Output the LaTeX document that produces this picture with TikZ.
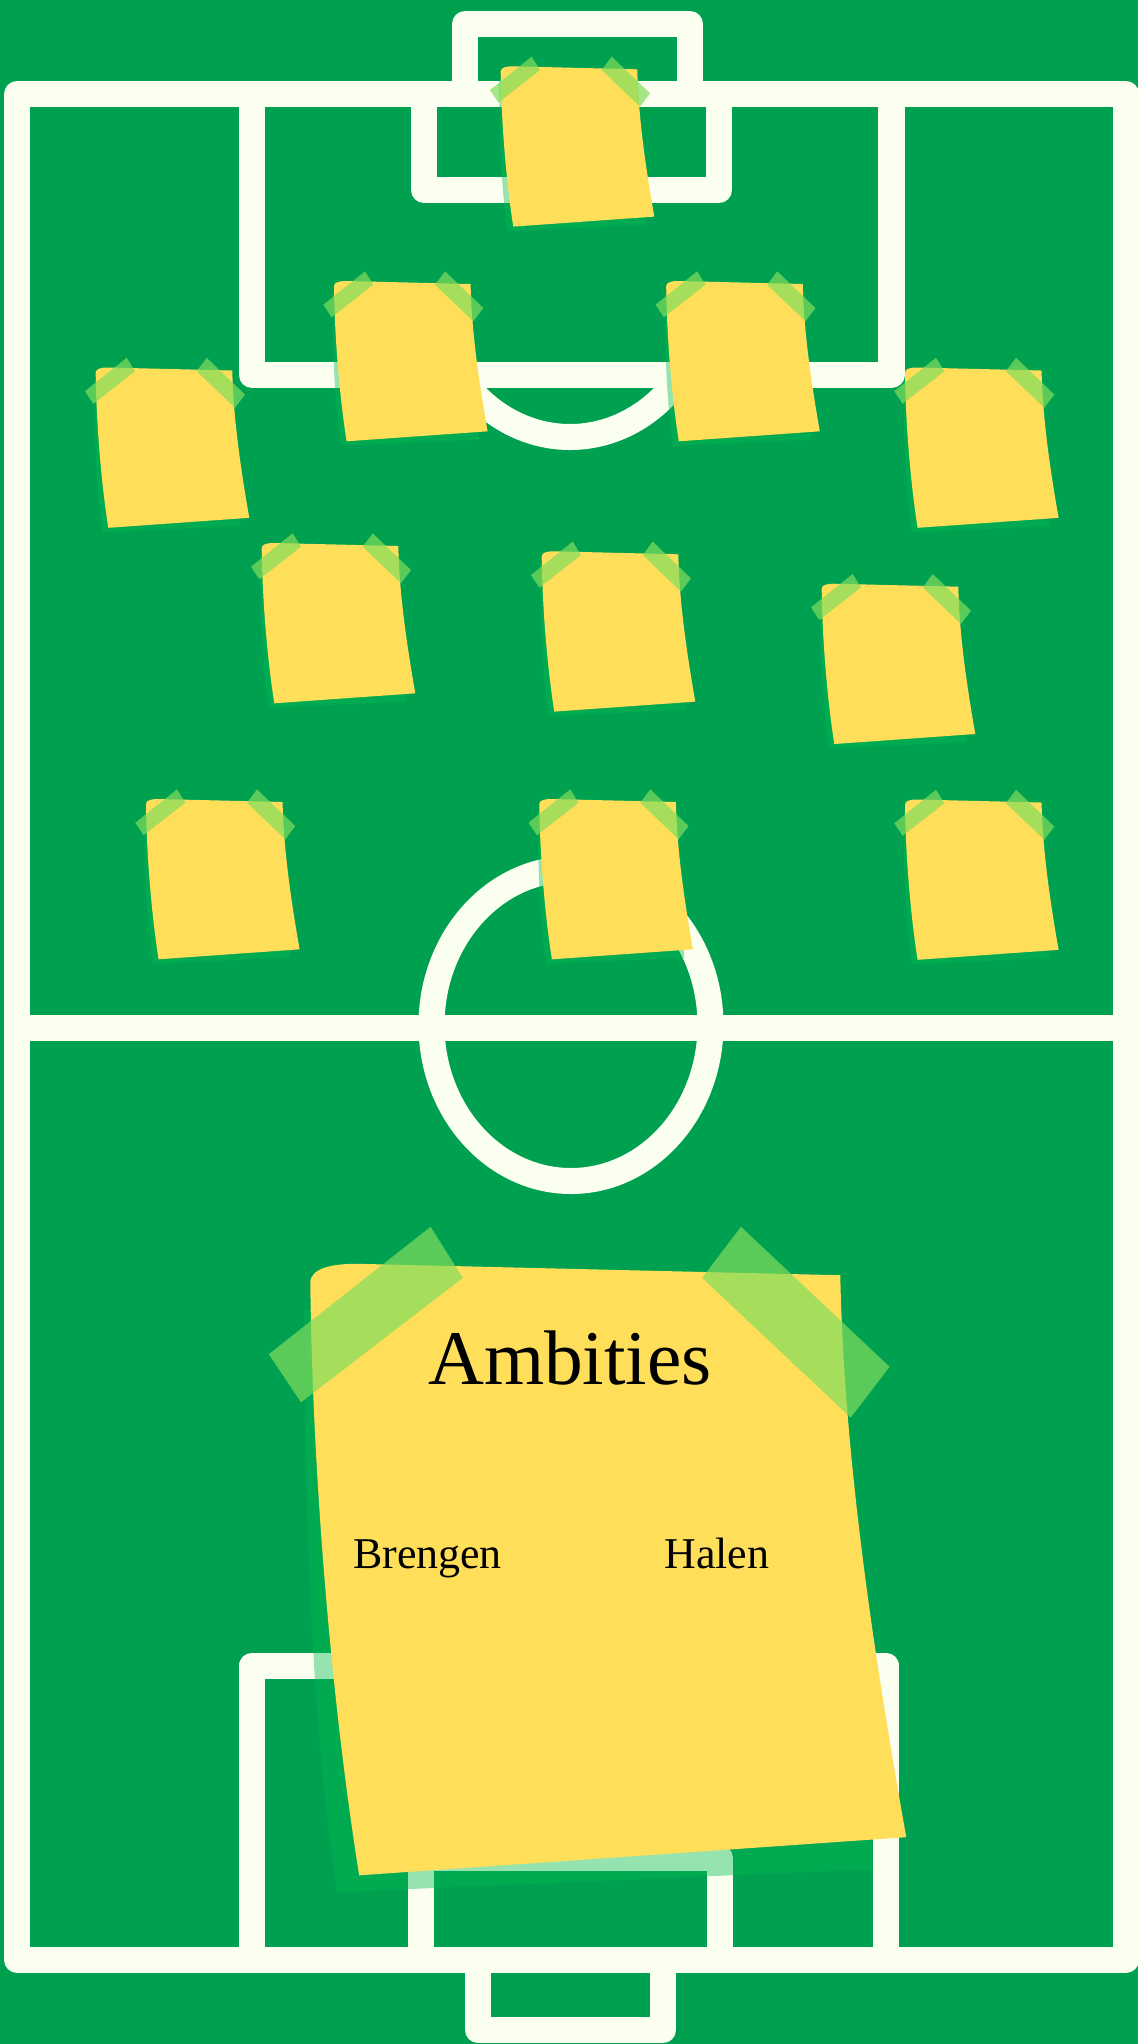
\documentclass[tikz,border=0pt]{standalone}
\usepackage{fontspec}
\setmainfont{Liberation Serif}
\usepackage{tikz}

\definecolor{pitchgreen}{RGB}{0,160,81}
\definecolor{chalk}{RGB}{250,255,240}
\definecolor{noteyellow}{RGB}{255,222,89}
\definecolor{tapegreen}{RGB}{129,221,91}
\definecolor{shadowgreen}{RGB}{0,187,82}

\begin{document}
\begin{tikzpicture}[
			x=0.01cm,
			y=-0.01cm,
			line cap=butt,
			line join=round,
			chalk line/.style={draw=chalk, line width=2.6mm},
			sticky/.pic={
				\fill[shadowgreen, fill opacity=0.4] (-1.5,10) .. controls (-1.5,70) and (1,125) .. (7,162.7)
					-- (145,156.7) -- (137,10) -- cycle;
				\fill[noteyellow] (0,3) .. controls (0,-1) and (6,-2) .. (12,-2) -- (136.6,1)
					.. controls (137.5,50) and (146,105) .. (153.6,148.3) -- (12.6,158.3)
					.. controls (5,110) and (0.5,50) .. (0,3) -- cycle;
				\fill[tapegreen, fill opacity=0.7] (-10.7,21.7) -- (31,-11.7) -- (39.3,1.7) -- (-2.4,34.3) -- cycle;
				\fill[tapegreen, fill opacity=0.7] (101,1.7) -- (111,-11.7) -- (149.3,25) -- (139.3,38.3) -- cycle;
			}
			]
			\useasboundingbox (0,0) rectangle (1138,2044);
			\fill[pitchgreen] (0,0) rectangle (1138,2044);
			
			% pitch
			\draw[chalk line] (17.4,94) rectangle (1126,1960);
			\draw[chalk line] (17.4,1027.5) -- (1126,1027.5);
			\draw[chalk line] (571,1025) ellipse [x radius=139.5, y radius=156];
			
			\draw[chalk line] (252,94) -- (252,375) -- (891.5,375) -- (891.5,94);
			\draw[chalk line] (424,94) -- (424,190) -- (719,190) -- (719,94);
			\draw[chalk line] (465,94) -- (465,24) -- (690,24) -- (690,94);
			\draw[chalk line] (570,281) ++(38:139.5 and 156)
				arc [start angle=38, end angle=142, x radius=139.5, y radius=156];
			
			\draw[chalk line] (252,1960) -- (252,1665.5) -- (886,1665.5) -- (886,1960);
			\draw[chalk line] (421,1960) -- (421,1858) -- (720,1858) -- (720,1960);
			\draw[chalk line] (478,1960) -- (478,2030) -- (663,2030) -- (663,1960);
			
			% notes
			\pic (keeper) at (500.7,68.3) {sticky};
			\pic (backl) at (334,283) {sticky};
			\pic (backr) at (666.2,283) {sticky};
			\pic (wingl) at (95.7,369.5) {sticky};
			\pic (wingr) at (905,369.5) {sticky};
			\pic (midl) at (261.7,545) {sticky};
			\pic (midc) at (541.7,553.3) {sticky};
			\pic (midr) at (821.7,585.7) {sticky};
			\pic (fwdl) at (146,801) {sticky};
			\pic (fwdc) at (539.3,801) {sticky};
			\pic (fwdr) at (905,801.5) {sticky};
			
			\pic[xscale=3.88, yscale=3.815] (board) at (310.3,1271.4) {sticky};
			
			\node[font=\fontsize{22}{26}\selectfont, anchor=base] (title) at (570,1384) {Ambities};
			\node[font=\fontsize{12.5}{15}\selectfont, anchor=base] (brengen) at (427.5,1568) {Brengen};
			\node[font=\fontsize{12.5}{15}\selectfont, anchor=base] (halen) at (717,1568) {Halen};
		\end{tikzpicture}
\end{document}
